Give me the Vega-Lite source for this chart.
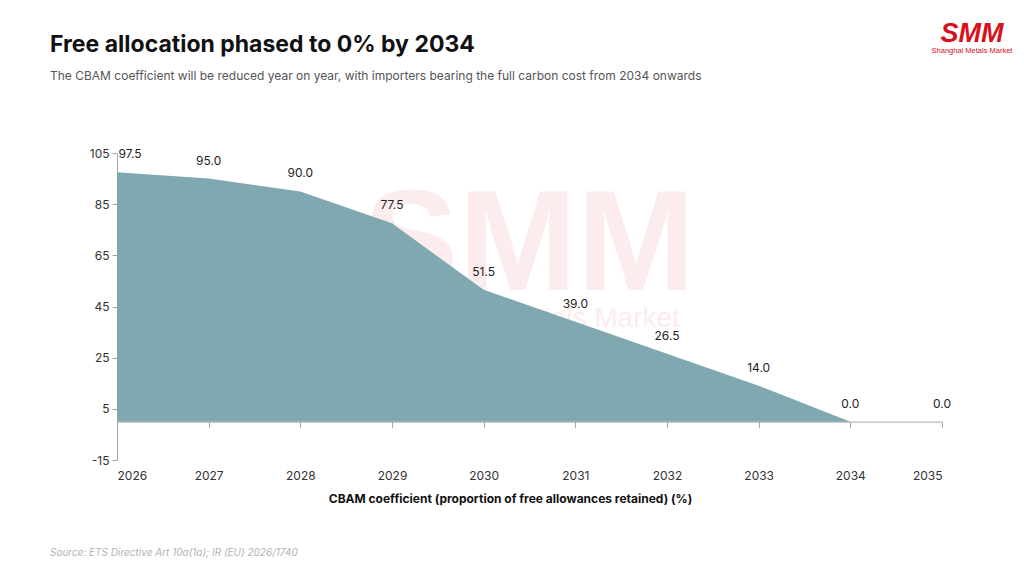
{
  "$schema": "https://vega.github.io/schema/vega-lite/v6.json",
  "description": "CBAM free allocation phase-out 2026-2035",
  "autosize": {"type": "none"},
  "width": 825,
  "height": 307,
  "padding": {"left": 117, "top": 153, "right": 82, "bottom": 116},
  "background": "white",
  "title": {
    "text": "Free allocation phased to 0% by 2034",
    "subtitle": "The CBAM coefficient will be reduced year on year, with importers bearing the full carbon cost from 2034 onwards",
    "anchor": "start",
    "frame": "group",
    "dx": -67,
    "offset": -62,
    "font": "Inter",
    "fontSize": 23,
    "fontWeight": "bold",
    "color": "#111111",
    "subtitleFont": "Inter",
    "subtitleFontSize": 12,
    "subtitleColor": "#555555",
    "subtitlePadding": 14
  },
  "config": {
    "view": {"stroke": null},
    "font": "Inter",
    "axis": {"labelFont": "Inter", "titleFont": "Inter", "grid": false}
  },
  "datasets": {
    "coef": [
      {"year": 2026, "value": 97.5},
      {"year": 2027, "value": 95.0},
      {"year": 2028, "value": 90.0},
      {"year": 2029, "value": 77.5},
      {"year": 2030, "value": 51.5},
      {"year": 2031, "value": 39.0},
      {"year": 2032, "value": 26.5},
      {"year": 2033, "value": 14.0},
      {"year": 2034, "value": 0.0},
      {"year": 2035, "value": 0.0}
    ],
    "notes": [
      {"year": 2030.5, "value": 51.5, "label": "SMM", "kind": "wm"},
      {"year": 2032.14, "value": 37, "label": "Shanghai Metals Market", "kind": "wm2"},
      {"year": 2026, "value": -51.5, "label": "Source: ETS Directive Art 10a(1a); IR (EU) 2026/1740", "kind": "source"},
      {"year": 2035, "value": 148.5, "label": "SMM", "kind": "logo"},
      {"year": 2035, "value": 144.2, "label": "Shanghai Metals Market", "kind": "logo2"}
    ]
  },
  "data": {"name": "coef"},
  "resolve": {"axis": {"x": "independent"}},
  "layer": [
    {
      "data": {"name": "notes"},
      "transform": [{"filter": "datum.kind == 'wm'"}],
      "mark": {"type": "text", "font": "Liberation Sans", "fontSize": 142, "fontWeight": "bold", "color": "#fdecee", "baseline": "alphabetic", "align": "center", "clip": false},
      "encoding": {
        "x": {"field": "year", "type": "quantitative", "scale": {"domain": [2026, 2035], "nice": false}, "axis": null},
        "y": {
          "field": "value",
          "type": "quantitative",
          "scale": {"domain": [-15, 105], "nice": false, "zero": false},
          "axis": {
            "values": [-15, 5, 25, 45, 65, 85, 105],
            "labelExpr": "'' + datum.value",
            "title": null,
            "domainColor": "#a6a6a6",
            "tickColor": "#a6a6a6",
            "tickSize": 5,
            "labelFontSize": 12,
            "labelColor": "#333333",
            "labelPadding": 3
          }
        },
        "text": {"field": "label"}
      }
    },
    {
      "data": {"name": "notes"},
      "transform": [{"filter": "datum.kind == 'wm2'"}],
      "mark": {"type": "text", "font": "Liberation Sans", "fontSize": 28, "color": "#fdecee", "baseline": "alphabetic", "align": "right", "clip": false},
      "encoding": {
        "x": {"field": "year", "type": "quantitative", "axis": null},
        "y": {"field": "value", "type": "quantitative"},
        "text": {"field": "label"}
      }
    },
    {
      "mark": {"type": "area", "color": "#7fa8b0", "opacity": 1},
      "encoding": {
        "x": {
          "field": "year",
          "type": "quantitative",
          "axis": {
            "orient": "bottom",
            "values": [2026, 2027, 2028, 2029, 2030, 2031, 2032, 2033, 2034, 2035],
            "format": "d",
            "domain": false,
            "ticks": false,
            "labelFontSize": 12,
            "labelColor": "#333333",
            "labelPadding": 10,
            "title": "CBAM coefficient (proportion of free allowances retained) (%)",
            "titleFontSize": 12,
            "titleFontWeight": "bold",
            "titleColor": "#111111",
            "titlePadding": 12,
            "titleX": 393
          }
        },
        "y": {"field": "value", "type": "quantitative"}
      }
    },
    {
      "mark": {"type": "text", "fontSize": 12, "color": "#222222", "dy": -18},
      "transform": [{"filter": "datum.year != 2026"}],
      "encoding": {
        "x": {
          "field": "year",
          "type": "quantitative",
          "axis": {
            "orient": "bottom",
            "values": [2026, 2027, 2028, 2029, 2030, 2031, 2032, 2033, 2034, 2035],
            "offset": -38.4,
            "labels": false,
            "title": null,
            "domainColor": "#a6a6a6",
            "tickColor": "#a6a6a6",
            "tickSize": 6
          }
        },
        "y": {"field": "value", "type": "quantitative"},
        "text": {"field": "value", "type": "quantitative", "format": ".1f"}
      }
    },
    {
      "mark": {"type": "text", "fontSize": 12, "color": "#222222", "dy": -18, "dx": 13},
      "transform": [{"filter": "datum.year == 2026"}],
      "encoding": {
        "x": {"field": "year", "type": "quantitative", "axis": null},
        "y": {"field": "value", "type": "quantitative"},
        "text": {"field": "value", "type": "quantitative", "format": ".1f"}
      }
    },
    {
      "data": {"name": "notes"},
      "transform": [{"filter": "datum.kind == 'source'"}],
      "mark": {"type": "text", "fontSize": 10, "fontStyle": "italic", "color": "#b3b3b3", "align": "left", "dx": -67, "clip": false},
      "encoding": {
        "x": {"field": "year", "type": "quantitative", "axis": null},
        "y": {"field": "value", "type": "quantitative"},
        "text": {"field": "label"}
      }
    },
    {
      "data": {"name": "notes"},
      "transform": [{"filter": "datum.kind == 'logo'"}],
      "mark": {"type": "text", "font": "Liberation Sans", "fontSize": 27, "fontWeight": "bold", "fontStyle": "italic", "color": "#d9101a", "align": "center", "baseline": "alphabetic", "dx": 30, "clip": false},
      "encoding": {
        "x": {"field": "year", "type": "quantitative", "axis": null},
        "y": {"field": "value", "type": "quantitative"},
        "text": {"field": "label"}
      }
    },
    {
      "data": {"name": "notes"},
      "transform": [{"filter": "datum.kind == 'logo2'"}],
      "mark": {"type": "text", "font": "Liberation Sans", "fontSize": 7.5, "color": "#d9101a", "align": "center", "baseline": "alphabetic", "dx": 30, "clip": false},
      "encoding": {
        "x": {"field": "year", "type": "quantitative", "axis": null},
        "y": {"field": "value", "type": "quantitative"},
        "text": {"field": "label"}
      }
    }
  ]
}
